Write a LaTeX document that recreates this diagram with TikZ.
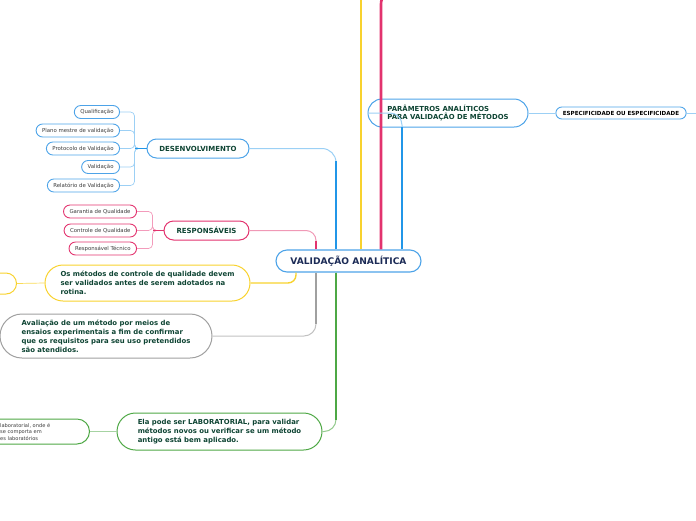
\documentclass[tikz,border=0pt]{standalone}
\usepackage{fontspec}
\setmainfont{DejaVu Sans}
\usetikzlibrary{positioning,calc}
\definecolor{cblue}{HTML}{2196E8}
\definecolor{cedge}{HTML}{4DA3E8}
\definecolor{clblue}{HTML}{9CD0F5}
\definecolor{cpink}{HTML}{E2336E}
\definecolor{clpink}{HTML}{F39BBB}
\definecolor{cyellow}{HTML}{F8D22E}
\definecolor{cgrey}{HTML}{A0A0A0}
\definecolor{cgreen}{HTML}{4EA845}
\definecolor{cnavy}{HTML}{1C2B56}
\definecolor{cdark}{HTML}{0E4433}
\definecolor{cleaf}{HTML}{3C3C3C}
\tikzset{
  central/.style = {draw=cedge, line width=1.1pt, rounded corners=11pt, minimum width=145pt,
                    minimum height=22pt, inner sep=0pt, text=cnavy,
                    font=\bfseries\fontsize{9.1}{10}\selectfont},
  topic/.style   = {draw=#1, line width=1pt, rounded corners=9.5pt, minimum height=19pt,
                    inner sep=0pt, text=cdark, font=\bfseries\fontsize{7}{8}\selectfont},
  leaf/.style    = {draw=#1, line width=0.9pt, rounded corners=6.5pt, minimum height=13pt,
                    inner xsep=6pt, inner ysep=0pt, text=cleaf,
                    font=\fontsize{5.4}{6}\selectfont},
  note/.style    = {draw=#1, line width=1pt, inner sep=0pt, align=left, text=cdark,
                    font=\bfseries\fontsize{6.9}{9}\selectfont},
  twig/.style    = {draw=#1, line width=1pt, rounded corners=12pt},
  stem/.style    = {draw=#1, line width=2.6pt},
  bracket/.style = {draw=#1, line width=0.7pt, rounded corners=4pt},
}
\begin{document}
\begin{tikzpicture}[x=1pt,y=-1pt]
  \useasboundingbox (0,0) rectangle (696,520);
  % centre and main topics
  \node[central] (val) at (348.5,261) {VALIDAÇÃO ANALÍTICA};
  \node[topic=cedge, minimum width=102pt] (desenv) at (198,148.5) {DESENVOLVIMENTO};
  \node[topic=cpink, minimum width=85pt] (resp) at (206.5,230.5) {RESPONSÁVEIS};
  \node[note=cedge, rounded corners=14pt, minimum width=160pt, minimum height=28pt,
        font=\bfseries\fontsize{6.9}{8}\selectfont] (param) at (448,113)
        {PARÂMETROS ANALÍTICOS\\PARA VALIDAÇÃO DE MÉTODOS};
  \node[leaf=cedge, text=black, inner xsep=7pt, minimum height=12pt, rounded corners=6pt,
        font=\bfseries\fontsize{5.6}{6}\selectfont] (espec) at (621,113)
        {ESPECIFICIDADE OU ESPECIFICIDADE};
  \coordinate (especnext) at (700,113);
  \node[note=cyellow, rounded corners=18pt, minimum width=205pt, minimum height=36pt]
        (ynote) at (147.5,283)
        {Os métodos de controle de qualidade devem\\ser validados antes de serem adotados na\\rotina.};
  \node[note=cyellow, rounded corners=10.5pt, minimum width=60pt, minimum height=21pt,
        anchor=east] (yleft) at (17,283.5) {};
  \node[note=cgrey, rounded corners=22pt, minimum width=212pt, minimum height=44pt]
        (gnote) at (106,336)
        {Avaliação de um método por meios de\\ensaios experimentais a fim de confirmar\\que os requisitos para seu uso pretendidos\\são atendidos.};
  \node[note=cgreen, rounded corners=18.5pt, minimum width=205pt, minimum height=37pt]
        (lab) at (219.5,431.5)
        {Ela pode ser LABORATORIAL, para validar\\métodos novos ou verificar se um método\\antigo está bem aplicado.};
  \node[note=cgreen, rounded corners=12.5pt, minimum width=150pt, minimum height=25pt,
        anchor=east] (glab) at (90,431.5) {};
  \node[anchor=west, inner sep=0pt, align=left, text=cleaf,
        font=\fontsize{5.1}{6.5}\selectfont] (glabtxt) at (0,431.5)
        {laboratorial, onde é\\se comporta em\\es laboratórios};

  % leaves of DESENVOLVIMENTO
  \node[leaf=cedge, anchor=east] (qual)  at (120,112)   {Qualificação};
  \node[leaf=cedge, anchor=east] (plano) at (120,130.5) {Plano mestre de validação};
  \node[leaf=cedge, anchor=east] (proto) at (120,148.5) {Protocolo de Validação};
  \node[leaf=cedge, anchor=east] (valid) at (120,167)   {Validação};
  \node[leaf=cedge, anchor=east] (relat) at (120,185.5) {Relatório de Validação};
  % leaves of RESPONSAVEIS
  \node[leaf=cpink, anchor=east] (garan) at (137,211.5) {Garantia de Qualidade};
  \node[leaf=cpink, anchor=east] (contr) at (137,230.5) {Controle de Qualidade};
  \node[leaf=cpink, anchor=east] (tecn)  at (137,248.5) {Responsável Técnico};

  % branches from the centre
  \draw[twig=cblue!45, rounded corners=14pt] (desenv.east) -| ([xshift=-12.5pt]val.north);
  \draw[stem=cblue] ([xshift=-12.5pt]val.north) -- ++(0,-88);
  \draw[twig=cpink!50, rounded corners=10pt] (resp.east) -| ([xshift=-32.5pt]val.north);
  \draw[stem=cpink] ([xshift=-32.5pt]val.north) -- ++(0,-8);
  \coordinate (yellowup) at (361,-5);
  \draw[stem=cyellow, line width=2.2pt] ([xshift=12.5pt]val.north) -- (yellowup);
  \coordinate (pinkup) at (400,-10);
  \draw[stem=cpink, rounded corners=14pt] ([xshift=32.5pt]val.north) |- (pinkup);
  \draw[twig=clblue] (param.west) -| ([xshift=53.5pt]val.north);
  \draw[stem=cblue] ([xshift=53.5pt]val.north) -- ++(0,-122);
  \draw[twig=cyellow, line width=1.4pt, rounded corners=8pt] ([xshift=-52.5pt]val.south) |- (ynote.east);
  \draw[twig=cgrey!65] ([xshift=-32.5pt]val.south) |- (gnote.east);
  \draw[stem=cgrey] ([xshift=-32.5pt]val.south) -- ++(0,51);
  \draw[twig=cgreen!60] ([xshift=-12.5pt]val.south) |- (lab.east);
  \draw[stem=cgreen] ([xshift=-12.5pt]val.south) -- ++(0,147);

  % sub-branches
  \foreach \leafname in {qual,plano,proto,valid,relat}
    \draw[bracket=clblue] (desenv.west) -- ++(-12,0) |- (\leafname.east);
  \draw[cblue, line width=1.2pt] (desenv.west) -- ++(-12,0);
  \foreach \leafname in {garan,contr,tecn}
    \draw[bracket=clpink] (resp.west) -- ++(-11,0) |- (\leafname.east);
  \draw[cpink, line width=1.2pt] (resp.west) -- ++(-11,0);
  \draw[bracket=clblue] (param.east) -- (espec.west);
  \draw[bracket=clblue] (espec.east) -- (especnext);
  \draw[bracket=cyellow!80] (ynote.west) -- (yleft.east);
  \draw[bracket=cgreen!50] (lab.west) -- (glab.east);
\end{tikzpicture}
\end{document}
